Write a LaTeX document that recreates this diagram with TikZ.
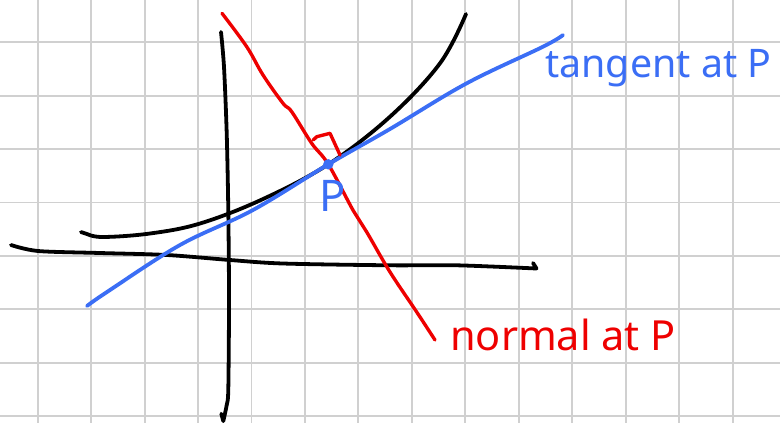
\documentclass[tikz,border=0pt]{standalone}
\usepackage{fontspec}
\setsansfont{Noto Sans}
\definecolor{penblue}{RGB}{59,110,245}
\definecolor{penred}{RGB}{238,0,0}
\definecolor{gridgray}{RGB}{208,208,208}

\begin{document}
\begin{tikzpicture}[
    x=0.025cm, y=-0.025cm,
    gridline/.style={draw=gridgray, line width=1.35pt},
    pen/.style={line width=2.7pt, line cap=round, line join=round},
    point/.style={circle, fill=penblue, inner sep=0pt, minimum size=0.26cm},
    lbl/.style={font=\sffamily\fontsize{28}{34}\selectfont, inner sep=0pt}
]
    \useasboundingbox (0,0) rectangle (780,423);

    % Squared paper
    \foreach \k in {0,...,13}
        \draw[gridline] ({37.7+53.45*\k},0) -- ({37.7+53.45*\k},423);
    \foreach \k in {0,...,7}
        \draw[gridline] (0,{42.3+53.4*\k}) -- (780,{42.3+53.4*\k});

    % Axes
    \draw[pen] plot[smooth] coordinates {(11,245) (38,251) (100,253) (167,255) (230,260) (283,263.5) (390,265.3) (457,265.3) (536.5,268.5)} -- (533,263);
    \draw[pen] plot[smooth] coordinates {(221,32) (224,67) (226.7,133) (228.3,211) (229,300) (228.3,389) (226.7,405) (223.3,421)};
    \draw[pen] (221.3,413.7) -- (223.3,421);

    \coordinate (P) at (328.3,164.3);

    % Curve
    \draw[pen] (81,232) -- plot[smooth, tension=0.6] coordinates {(87,234) (103,237) (150,233.5) (200,223.5) (262,199.5) (P) (390,116.7) (440,63.3) (466,14)};

    % Tangent
    \draw[pen, penblue] plot[smooth, tension=0.6] coordinates {(87,306) (107,292) (180,245) (253,210) (P) (390,129) (466.7,83.3) (543,46.7) (563,35)};
    \node[lbl, penblue, anchor=base west] (tanlbl) at (545,77) {tangent at P};

    % Normal
    \draw[pen, penred, line width=2.4pt] plot[smooth, tension=0.6] coordinates {(222,13.3) (246.7,46.7) (263,75) (283,103.3) (291.7,111.7) (311.7,143.3) (P) (353.3,210.7) (366.7,232) (390,272) (416.7,312) (435,340)};
    \draw[pen, penred, line width=2.4pt] (313.3,140) -- (316.7,136.7) -- (330,133.3) -- (340,155);
    \node[lbl, penred, anchor=base west, font=\sffamily\fontsize{29.5}{34}\selectfont] (normlbl) at (450,350) {normal at P};

    % Point P
    \node[point] (pdot) at (P) {};
    \node[lbl, penblue, anchor=base, font=\sffamily\fontsize{31}{34}\selectfont] (plbl) at (333,211) {P};
\end{tikzpicture}
\end{document}
